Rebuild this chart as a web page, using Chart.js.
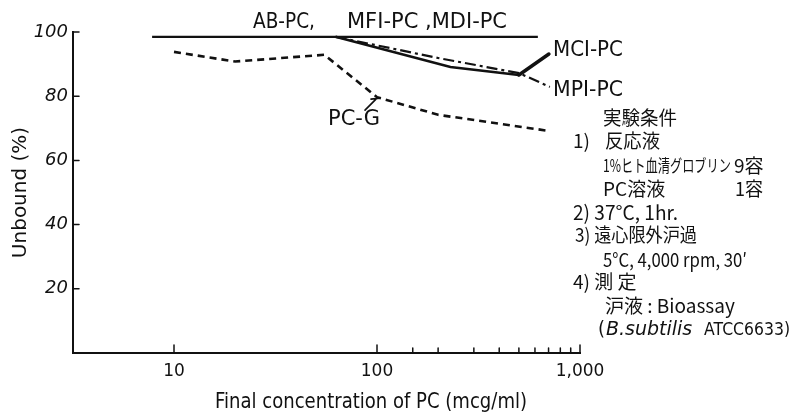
<!DOCTYPE html>
<html>
<head>
<meta charset="utf-8">
<script src="https://cdn.jsdelivr.net/npm/chart.js@4.4.1/dist/chart.umd.min.js"></script>
<style>
  body { margin: 0; background: #fff; }
  canvas { display: block; }
</style>
</head>
<body>
<canvas id="chart" width="791" height="412"></canvas>
<script>
// values
const abpcX = [7.8, 62.5, 620];
const abpcY = [98.5, 98.5, 98.5];
const mciX = [62.5, 230, 500];
const mciY = [98.5, 89.1, 86.6];
const mpiX = [62.5, 200, 500, 710];
const mpiY = [98.5, 91.9, 87.2, 82.9];
const pcgX = [10, 20, 55, 100, 200, 700];
const pcgY = [93.8, 90.8, 92.9, 79.7, 74.2, 69.2];

const xTickValues = [10, 100, 150, 200, 300, 400, 500, 600, 700, 800, 900, 1000];
const xTickLabels = { 10: '10', 100: '100', 1000: '1,000' };
const yTickValues = [20, 40, 60, 80, 100];

const INK = '#111';

function points(xs, ys) {
    return xs.map((x, i) => ({ x: x, y: ys[i] }));
}

// texts written on the figure
const notes = [
    { t: 'AB-PC,', x: 253, y: 23, w: 62, f: '21px "DejaVu Sans"' },
    { t: 'MFI-PC ,MDI-PC', x: 347, y: 23, w: 171, f: '21px "DejaVu Sans"' },
    { t: 'MCI-PC', x: 553, y: 51, w: 70, f: '21px "DejaVu Sans"' },
    { t: 'MPI-PC', x: 553, y: 91, w: 70, f: '21px "DejaVu Sans"' },
    { t: 'PC-G', x: 328, y: 120, w: 56, f: '21px "DejaVu Sans"' },
    { t: '実験条件', x: 603, y: 118, w: 74, f: '19px "Noto Sans CJK JP"' },
    { t: '1)', x: 573, y: 141, w: 18, f: '19px "Noto Sans CJK JP"' },
    { t: '反応液', x: 605, y: 141, w: 55, f: '19px "Noto Sans CJK JP"' },
    { t: '1%ヒト血清グロブリン', x: 603, y: 166, w: 128, f: '17px "Noto Sans CJK JP"' },
    { t: '9容', x: 734, y: 166, w: 31, f: '19px "Noto Sans CJK JP"' },
    { t: 'PC溶液', x: 603, y: 189, w: 70, f: '19px "Noto Sans CJK JP"' },
    { t: '1容', x: 735, y: 189, w: 28, f: '19px "Noto Sans CJK JP"' },
    { t: '2) 37°C, 1hr.', x: 573, y: 212, w: 105, f: '20px "Noto Sans CJK JP"' },
    { t: '3) 遠心限外沪過', x: 575, y: 235, w: 122, f: '19px "Noto Sans CJK JP"' },
    { t: '5°C, 4,000 rpm, 30′', x: 603, y: 260, w: 144, f: '19px "Noto Sans CJK JP"' },
    { t: '4) 測 定', x: 573, y: 282, w: 77, f: '19px "Noto Sans CJK JP"' },
    { t: '沪液 : Bioassay', x: 605, y: 306, w: 137, f: '19px "Noto Sans CJK JP"' },
    { t: '(', x: 598, y: 330, w: 7, f: '19px "DejaVu Sans"' },
    { t: 'B.subtilis', x: 606, y: 330, w: 95, f: 'italic 19px "DejaVu Sans"' },
    { t: 'ATCC6633)', x: 704, y: 330, w: 86, f: '18px "DejaVu Sans"' },
    { t: 'Final concentration of PC (mcg/ml)', x: 215, y: 403, w: 312, f: '21px "DejaVu Sans"' }
];

const paperPlugin = {
    id: 'paper',
    beforeDraw(chart) {
        const ctx = chart.ctx;
        ctx.save();
        ctx.fillStyle = '#fff';
        ctx.fillRect(0, 0, chart.width, chart.height);
        ctx.restore();
    },
    afterDraw(chart) {
        const ctx = chart.ctx;
        const xs = chart.scales.x;
        const ys = chart.scales.y;
        const area = chart.chartArea;
        ctx.save();
        ctx.strokeStyle = INK;
        ctx.lineCap = 'round';

        // ticks point inwards, like the hand drawn axes
        ctx.lineWidth = 1.5;
        xTickValues.forEach(v => {
            const px = xs.getPixelForValue(v);
            const len = v === 10 || v === 100 || v === 1000 ? 8 : 5;
            ctx.beginPath();
            ctx.moveTo(px, area.bottom);
            ctx.lineTo(px, area.bottom - len);
            ctx.stroke();
        });
        yTickValues.forEach(v => {
            const py = ys.getPixelForValue(v);
            ctx.beginPath();
            ctx.moveTo(area.left, py);
            ctx.lineTo(area.left + 6, py);
            ctx.stroke();
        });

        // leader from MCI-PC label to its last point
        const mciEnd = { x: xs.getPixelForValue(mciX[mciX.length - 1]), y: ys.getPixelForValue(mciY[mciY.length - 1]) };
        ctx.lineWidth = 3.5;
        ctx.beginPath();
        ctx.moveTo(mciEnd.x, mciEnd.y);
        ctx.lineTo(mciEnd.x + 30, mciEnd.y - 21);
        ctx.stroke();

        // leader from PC-G label
        const pcgAt = { x: xs.getPixelForValue(pcgX[3]), y: ys.getPixelForValue(pcgY[3]) };
        ctx.lineWidth = 1.6;
        ctx.beginPath();
        ctx.moveTo(pcgAt.x - 6, pcgAt.y + 2);
        ctx.lineTo(pcgAt.x + 3, pcgAt.y + 1);
        ctx.moveTo(pcgAt.x, pcgAt.y + 1);
        ctx.lineTo(pcgAt.x - 12, pcgAt.y + 13);
        ctx.stroke();

        ctx.fillStyle = INK;
        ctx.textBaseline = 'middle';
        ctx.textAlign = 'left';
        notes.forEach(n => {
            ctx.font = n.f;
            ctx.fillText(n.t, n.x, n.y, n.w);
        });
        ctx.restore();
    }
};

new Chart(document.getElementById('chart'), {
    type: 'line',
    data: {
        datasets: [
            {
                label: 'AB-PC, MFI-PC, MDI-PC',
                data: points(abpcX, abpcY),
                borderColor: INK,
                borderWidth: 2.2
            },
            {
                label: 'MCI-PC',
                data: points(mciX, mciY),
                borderColor: INK,
                borderWidth: 2.6
            },
            {
                label: 'MPI-PC',
                data: points(mpiX, mpiY),
                borderColor: INK,
                borderWidth: 2.2,
                borderDash: [11, 4, 3, 4]
            },
            {
                label: 'PC-G',
                data: points(pcgX, pcgY),
                borderColor: INK,
                borderWidth: 2.6,
                borderDash: [7, 5]
            }
        ]
    },
    options: {
        responsive: false,
        animation: false,
        layout: { padding: { top: 32, right: 211, left: 0, bottom: 0 } },
        elements: { point: { radius: 0 }, line: { tension: 0 } },
        plugins: {
            legend: { display: false },
            tooltip: { enabled: false }
        },
        scales: {
            x: {
                type: 'logarithmic',
                min: 3.18,
                max: 1000,
                afterBuildTicks: s => {
                    s.ticks = xTickValues.map(v => ({ value: v }));
                },
                afterFit: s => { s.height = 59; },
                grid: { display: false, drawTicks: false },
                border: { display: true, color: INK, width: 2 },
                ticks: {
                    autoSkip: false,
                    maxRotation: 0,
                    padding: 8,
                    color: INK,
                    font: { family: 'DejaVu Sans', size: 17 },
                    callback: v => xTickLabels[v] || ''
                }
            },
            y: {
                min: 0,
                max: 100,
                afterBuildTicks: s => {
                    s.ticks = [0].concat(yTickValues).map(v => ({ value: v }));
                },
                afterFit: s => { s.width = 73; },
                grid: { display: false, drawTicks: false },
                border: { display: true, color: INK, width: 2 },
                ticks: {
                    padding: 5,
                    color: INK,
                    font: { family: 'DejaVu Sans', size: 18, style: 'italic' },
                    callback: v => v === 0 ? '' : String(v)
                },
                title: {
                    display: true,
                    text: 'Unbound (%)',
                    color: INK,
                    font: { family: 'DejaVu Sans', size: 20 },
                    padding: { top: 9, bottom: 0 }
                }
            }
        }
    },
    plugins: [paperPlugin]
});
</script>
</body>
</html>
